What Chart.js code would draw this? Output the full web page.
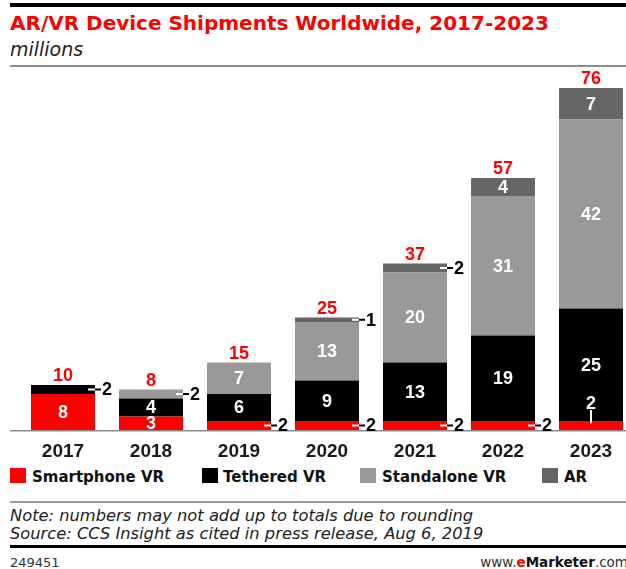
<!DOCTYPE html>
<html>
<head>
<meta charset="utf-8">
<script src="https://cdn.jsdelivr.net/npm/chart.js@4.4.1/dist/chart.umd.min.js"></script>
<style>
  html, body { margin: 0; padding: 0; background: #fff; width: 626px; height: 569px; overflow: hidden; }
  body { position: relative; font-family: "DejaVu Sans", sans-serif; }
  .rule { position: absolute; left: 10px; width: 616px; }
  #title { position: absolute; left: 10px; top: 13px; font-size: 20px; line-height: 20px; font-weight: bold; color: #ff0000; white-space: nowrap; }
  #subtitle { position: absolute; left: 10px; top: 40px; font-size: 19px; line-height: 19px; font-style: italic; color: #222; }
  #chart { position: absolute; left: 0; top: 66px; }
  .key { position: absolute; top: 468px; width: 16px; height: 15px; }
  .keytext { position: absolute; top: 468px; font-size: 15px; line-height: 18px; font-weight: bold; color: #111; white-space: nowrap; }
  #note { position: absolute; left: 10px; top: 507px; font-size: 16.3px; line-height: 18px; font-style: italic; color: #222; white-space: nowrap; }
  #code { position: absolute; left: 10px; top: 556px; font-size: 13px; line-height: 13px; color: #333; }
  #site { position: absolute; right: -2px; top: 556px; font-size: 13.5px; line-height: 13px; color: #333; white-space: nowrap; }
  #site b { color: #111; }
  #site b span { color: #ff0000; }
</style>
</head>
<body>
<div class="rule" style="top:3px;height:4px;background:#000"></div>
<div id="title">AR/VR Device Shipments Worldwide, 2017-2023</div>
<div id="subtitle">millions</div>
<div class="rule" style="top:65px;height:2px;background:#8c8c8c"></div>

<canvas id="chart" width="640" height="394"></canvas>

<div class="key" style="left:10px;background:#ff0000"></div>
<div class="keytext" style="left:32px">Smartphone VR</div>
<div class="key" style="left:202px;background:#000"></div>
<div class="keytext" style="left:223px">Tethered VR</div>
<div class="key" style="left:360px;background:#999999"></div>
<div class="keytext" style="left:382px">Standalone VR</div>
<div class="key" style="left:542px;background:#666666"></div>
<div class="keytext" style="left:564px">AR</div>

<div class="rule" style="top:501px;height:2px;background:#9a9a9a"></div>
<div id="note">Note: numbers may not add up to totals due to rounding<br>Source: CCS Insight as cited in press release, Aug 6, 2019</div>
<div class="rule" style="top:545px;height:3px;background:#000"></div>
<div id="code">249451</div>
<div id="site">www.<b><span>e</span>Marketer</b>.com</div>

<script>
const years = ['2017', '2018', '2019', '2020', '2021', '2022', '2023'];
const smartphoneVR = [8, 3, 2, 2, 2, 2, 2];
const tetheredVR = [2, 4, 6, 9, 13, 19, 25];
const standaloneVR = [0, 2, 7, 13, 20, 31, 42];
const ar = [0, 0, 0, 1, 2, 4, 7];
const totals = [10, 8, 15, 25, 37, 57, 76];

const labelFont = 'bold 18px "Liberation Sans", Arial, sans-serif';

// axis line, segment labels and red totals
const barLabels = {
    id: 'barLabels',
    beforeDatasetsDraw(chart) {
        const ctx = chart.ctx;
        const y = chart.chartArea.bottom + 0.75;
        ctx.save();
        ctx.strokeStyle = '#8c8c8c';
        ctx.lineWidth = 1.5;
        ctx.beginPath();
        ctx.moveTo(10, y);
        ctx.lineTo(chart.width, y);
        ctx.stroke();
        ctx.restore();
    },
    afterDatasetsDraw(chart) {
        const ctx = chart.ctx;
        const tops = [];
        ctx.save();
        ctx.font = labelFont;
        ctx.textBaseline = 'middle';
        ctx.lineWidth = 2;
        chart.data.datasets.forEach((ds, i) => {
            const meta = chart.getDatasetMeta(i);
            meta.data.forEach((bar, j) => {
                const v = ds.data[j];
                const top = Math.min(bar.y, bar.base);
                tops[j] = tops[j] === undefined ? top : Math.min(tops[j], top);
                if (!v) return;
                const mid = (bar.y + bar.base) / 2;
                const right = bar.x + bar.width / 2;
                if (v >= 3) {
                    ctx.fillStyle = '#fff';
                    ctx.textAlign = 'center';
                    ctx.fillText(String(v), bar.x, mid + 1);
                } else if (right + 20 > chart.width) {
                    ctx.strokeStyle = '#fff';
                    ctx.beginPath();
                    ctx.moveTo(bar.x, mid - 2);
                    ctx.lineTo(bar.x, top - 11);
                    ctx.stroke();
                    ctx.fillStyle = '#fff';
                    ctx.textAlign = 'center';
                    ctx.fillText(String(v), bar.x, top - 17);
                } else {
                    ctx.strokeStyle = '#fff';
                    ctx.beginPath();
                    ctx.moveTo(right - 7, mid);
                    ctx.lineTo(right, mid);
                    ctx.stroke();
                    ctx.strokeStyle = '#000';
                    ctx.beginPath();
                    ctx.moveTo(right, mid);
                    ctx.lineTo(right + 6, mid);
                    ctx.stroke();
                    ctx.fillStyle = '#000';
                    ctx.textAlign = 'left';
                    ctx.fillText(String(v), right + 7, mid + 1);
                }
            });
        });
        ctx.fillStyle = '#ff0000';
        ctx.textAlign = 'center';
        ctx.textBaseline = 'alphabetic';
        const xs = chart.getDatasetMeta(0).data;
        totals.forEach((t, j) => {
            ctx.fillText(String(t), xs[j].x, tops[j] - 4);
        });
        ctx.restore();
    }
};

const ctx = document.getElementById('chart').getContext('2d');
new Chart(ctx, {
    type: 'bar',
    data: {
        labels: years,
        datasets: [
            { label: 'Smartphone VR', data: smartphoneVR, backgroundColor: '#ff0000' },
            { label: 'Tethered VR', data: tetheredVR, backgroundColor: '#000000' },
            { label: 'Standalone VR', data: standaloneVR, backgroundColor: '#999999' },
            { label: 'AR', data: ar, backgroundColor: '#666666' }
        ]
    },
    options: {
        responsive: false,
        animation: false,
        layout: { padding: { top: 4, left: 19, right: 5, bottom: 0 } },
        datasets: { bar: { categoryPercentage: 1, barPercentage: 64 / 88, borderWidth: 0 } },
        plugins: {
            legend: { display: false },
            tooltip: { enabled: false }
        },
        scales: {
            x: {
                stacked: true,
                grid: { display: false },
                border: { display: false },
                ticks: {
                    color: '#1a1a1a',
                    padding: 2,
                    font: { family: '"Liberation Sans", Arial, sans-serif', size: 19, weight: 'bold' }
                },
                afterFit(scale) { scale.height = 30; }
            },
            y: {
                stacked: true,
                display: false,
                min: 0,
                max: 80
            }
        }
    },
    plugins: [barLabels]
});
</script>
</body>
</html>
